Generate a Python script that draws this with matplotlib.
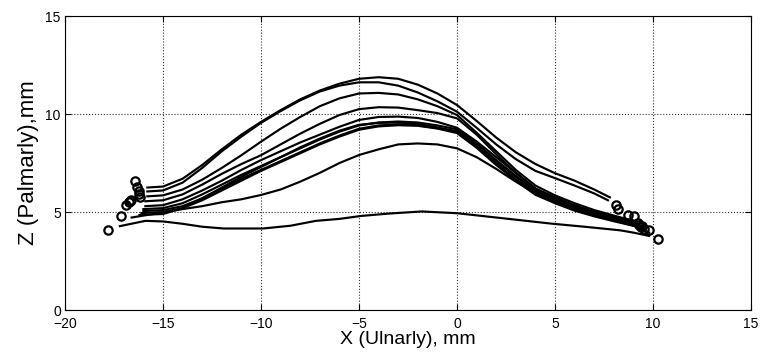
import numpy as np
import matplotlib
matplotlib.use('Agg')
import matplotlib.pyplot as plt

plt.rcParams['font.family'] = ['Liberation Sans', 'DejaVu Sans']

# 曲线数据 (X, Z), mm
c1_x = [-15.8, -15, -14, -13, -12, -11, -10, -9, -8, -7, -6, -5, -4, -3, -2, -1, 0, 1, 2, 3, 4, 5, 6, 7, 7.8]
c1_y = [6.25, 6.3, 6.7, 7.4, 8.2, 8.95, 9.6, 10.2, 10.75, 11.2, 11.55, 11.8, 11.88, 11.8, 11.5, 11.05, 10.46, 9.65, 8.8, 8.05, 7.45, 6.98, 6.6, 6.15, 5.75]

c2_x = [-15.8, -15, -14, -13, -12, -11, -10, -9, -8, -7, -6, -5, -4, -3, -2, -1, 0, 1, 2, 3, 4, 5, 6, 7, 7.7]
c2_y = [6.05, 6.1, 6.5, 7.25, 8.1, 8.85, 9.55, 10.15, 10.7, 11.15, 11.45, 11.62, 11.62, 11.45, 11.1, 10.65, 10.12, 9.3, 8.45, 7.7, 7.1, 6.73, 6.35, 5.95, 5.6]

c3_x = [-15.8, -15, -14, -13, -12, -11, -10, -9, -8, -7, -6, -5, -4, -3, -2, -1, 0, 1, 2, 3, 4, 5, 6, 7, 8, 9]
c3_y = [5.8, 5.85, 6.15, 6.65, 7.25, 7.9, 8.59, 9.25, 9.85, 10.4, 10.8, 11.05, 11.08, 11.0, 10.75, 10.4, 9.95, 9.05, 8.1, 7.15, 6.35, 5.85, 5.45, 5.1, 4.82, 4.55]

c4_x = [-15.9, -15, -14, -13, -12, -11, -10, -9, -8, -7, -6, -5, -4, -3, -2, -1, 0, 1, 2, 3, 4, 5, 6, 7, 8, 9.2]
c4_y = [5.55, 5.6, 5.9, 6.4, 6.95, 7.45, 7.9, 8.45, 9.0, 9.5, 9.95, 10.25, 10.35, 10.33, 10.2, 10.05, 9.78, 8.95, 7.95, 7.0, 6.2, 5.75, 5.35, 5.0, 4.75, 4.45]

c5_x = [-15.9, -15, -14, -13, -12, -11, -10, -9, -8, -7, -6, -5, -4, -3, -2, -1, 0, 1, 2, 3, 4, 5, 6, 7, 8, 9.4]
c5_y = [5.3, 5.35, 5.65, 6.1, 6.6, 7.15, 7.65, 8.1, 8.55, 8.95, 9.35, 9.7, 9.85, 9.87, 9.8, 9.6, 9.3, 8.6, 7.8, 7.0, 6.2, 5.72, 5.32, 5.0, 4.72, 4.3]

c6_x = [-16, -15, -14, -13, -12, -11, -10, -9, -8, -7, -6, -5, -4, -3, -2, -1, 0, 1, 2, 3, 4, 5, 6, 7, 8, 9.5]
c6_y = [5.15, 5.2, 5.45, 5.9, 6.4, 6.9, 7.35, 7.8, 8.25, 8.7, 9.1, 9.42, 9.57, 9.62, 9.57, 9.42, 9.22, 8.5, 7.65, 6.85, 6.1, 5.65, 5.25, 4.95, 4.7, 4.2]

c7_x = [-16, -15, -14, -13, -12, -11, -10, -9, -8, -7, -6, -5, -4, -3, -2, -1, 0, 1, 2, 3, 4, 5, 6, 7, 8, 9.6]
c7_y = [5.05, 5.1, 5.3, 5.7, 6.2, 6.7, 7.15, 7.6, 8.05, 8.5, 8.9, 9.25, 9.42, 9.48, 9.43, 9.28, 9.08, 8.35, 7.48, 6.68, 5.95, 5.52, 5.13, 4.83, 4.58, 4.15]

c8_x = [-16.1, -15, -14, -13, -12, -11, -10, -9, -8, -7, -6, -5, -4, -3, -2, -1, 0, 1, 2, 3, 4, 5, 6, 7, 8, 9.4]
c8_y = [4.95, 5.0, 5.2, 5.6, 6.1, 6.6, 7.1, 7.55, 8.0, 8.45, 8.85, 9.2, 9.37, 9.43, 9.4, 9.26, 9.03, 8.28, 7.4, 6.6, 5.88, 5.45, 5.07, 4.78, 4.53, 4.2]

c9_x = [-16.2, -15, -14, -13, -12, -11, -10, -9, -8, -7, -6, -5, -4, -3, -2, -1, 0, 1, 2, 3, 4, 5, 6, 7, 8, 9.0]
c9_y = [4.85, 4.9, 5.2, 5.7, 6.25, 6.8, 7.3, 7.8, 8.3, 8.75, 9.15, 9.45, 9.55, 9.57, 9.5, 9.32, 9.12, 8.45, 7.6, 6.8, 6.05, 5.6, 5.2, 4.9, 4.65, 4.45]

c10_x = [-16.6, -15, -14, -13, -12, -11, -10, -9, -8, -7, -6, -5, -4, -3, -2, -1, 0, 1, 2, 3, 4, 5, 6, 7, 8, 9, 9.8]
c10_y = [4.72, 4.98, 5.15, 5.3, 5.5, 5.65, 5.87, 6.15, 6.55, 7.0, 7.5, 7.91, 8.2, 8.45, 8.5, 8.45, 8.25, 7.8, 7.2, 6.55, 5.95, 5.5, 5.15, 4.85, 4.6, 4.35, 3.95]

c11_x = [-17.2, -15.9, -15, -14, -13, -11.9, -9.9, -8.5, -7.2, -6, -4.9, -3.5, -1.8, 0, 2, 4.8, 6.5, 8.3, 9, 9.8]
c11_y = [4.28, 4.55, 4.52, 4.4, 4.25, 4.16, 4.16, 4.3, 4.55, 4.65, 4.8, 4.92, 5.03, 4.94, 4.72, 4.41, 4.25, 4.07, 3.95, 3.78]

# 起点/终点标记
start_x = [-16.42, -16.32, -16.22, -16.17, -16.63, -16.88, -16.75, -16.2, -16.7, -17.14, -17.80]
start_y = [6.6, 6.28, 6.07, 5.77, 5.61, 5.36, 5.5, 5.9, 5.55, 4.8, 4.08]
end_x = [8.10, 8.21, 8.72, 9.02, 9.23, 9.38, 9.54, 9.45, 9.3, 9.79, 10.25]
end_y = [5.36, 5.15, 4.85, 4.80, 4.44, 4.23, 4.13, 4.3, 4.35, 4.08, 3.62]

curves_x = [c1_x, c2_x, c3_x, c4_x, c5_x, c6_x, c7_x, c8_x, c9_x, c10_x, c11_x]
curves_y = [c1_y, c2_y, c3_y, c4_y, c5_y, c6_y, c7_y, c8_y, c9_y, c10_y, c11_y]

fig = plt.figure(figsize=(7.61, 3.62), dpi=100)
ax = fig.add_axes([0.0854, 0.1436, 0.9015, 0.812])

for xs, ys in zip(curves_x, curves_y):
    ax.plot(xs, ys, 'k-', lw=1.55)

ax.plot(start_x, start_y, 'o', ls='none', mfc='none', mec='k', mew=1.6, ms=6)
ax.plot(end_x, end_y, 'o', ls='none', mfc='none', mec='k', mew=1.6, ms=6)

ax.set_xlim(-20, 15)
ax.set_ylim(0, 15)
ax.set_xticks(np.arange(-20, 16, 5))
ax.set_yticks([0, 5, 10, 15])
ax.grid(True, ls=':', color='#333333', lw=0.8)
ax.tick_params(direction='in', top=True, right=True, length=4, labelsize=10)
ax.tick_params(axis='x', pad=5)
ax.tick_params(axis='y', pad=3)
for sp in ax.spines.values():
    sp.set_linewidth(0.8)

ax.set_xlabel('X (Ulnarly), mm', fontsize=14, labelpad=0)
ax.set_ylabel('Z (Palmarly),mm', fontsize=16, labelpad=5)

fig.savefig('out.png', dpi=100)
